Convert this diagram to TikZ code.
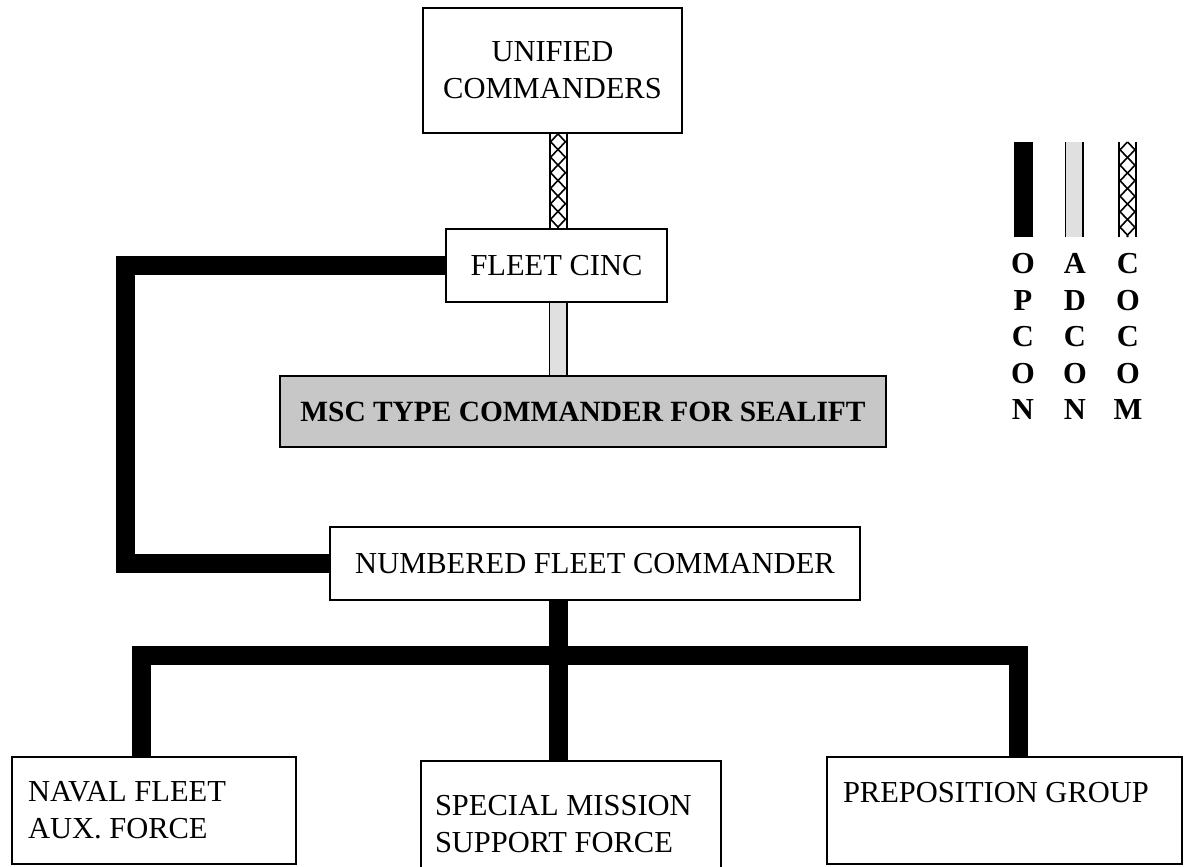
\documentclass[tikz,border=0pt]{standalone}
\usepackage{fontspec}
\setmainfont{Liberation Serif}
\usetikzlibrary{decorations.pathmorphing}
\pgfdeclarelayer{back}
\pgfsetlayers{back,main}
\newcommand{\orgfont}{\fontsize{15.25}{18.5}\selectfont}
\tikzset{
  orgbox/.style={draw, line width=1pt, fill=white, inner sep=0pt, align=center, font=\orgfont},
  unitbox/.style={draw, line width=1pt, fill=white, inner xsep=8pt, inner ysep=0pt, align=flush left, font=\orgfont},
  keytext/.style={inner sep=0pt, anchor=north, align=center, font=\fontsize{15.25}{18.25}\selectfont\bfseries},
  opcon/.style={line width=9.5pt},
  adcon/.style={line width=9.5pt, postaction={draw=black!12, line width=8pt}},
  cocom/.style={line width=9.5pt, postaction={draw=white, line width=7.5pt},
    postaction={draw=black, line width=0.8pt, decorate, decoration={zigzag, amplitude=3.75pt, segment length=15.5pt}},
    postaction={draw=black, line width=0.8pt, decorate, decoration={zigzag, mirror, amplitude=3.75pt, segment length=15.5pt}}}
}
\begin{document}
\begin{tikzpicture}[x=0.5pt, y=-0.5pt]
  \useasboundingbox (0,0) rectangle (1185,867);
  % chain of command
  \node[orgbox, minimum width=129.5pt, minimum height=62.5pt] (uc) at (552.5,70.5) {UNIFIED\\COMMANDERS};
  \node[orgbox, minimum width=110.5pt, minimum height=36.5pt] (fc) at (556.5,265.5) {FLEET CINC};
  \node[orgbox, fill=black!22, minimum width=303pt, minimum height=35.5pt, font=\fontsize{14.7}{18}\selectfont\bfseries] (msc) at (583,411.5) {MSC TYPE COMMANDER FOR SEALIFT};
  \node[orgbox, minimum width=265pt, minimum height=36.5pt] (nfc) at (595,563.5) {NUMBERED FLEET COMMANDER};
  \node[unitbox, text width=126pt, minimum height=53.5pt] (nfaf) at (154,810.5) {NAVAL FLEET\\AUX. FORCE};
  \node[unitbox, text width=136pt, inner xsep=7pt, minimum height=63.5pt] (smsf) at (571,824.5) {SPECIAL MISSION\\SUPPORT FORCE};
  \node[unitbox, text width=161.5pt, minimum height=53.5pt] (pg) at (1004.5,810.5) {PREPOSITION GROUP\\\mbox{}};
  \coordinate (spine) at (558,0);
  \coordinate (opleft) at (125,0);
  \coordinate (busL) at (141,655.5);
  \coordinate (busR) at (1018,655.5);
  \begin{pgfonlayer}{back}
    \draw[cocom] (uc.south -| spine) -- (fc.north -| spine);
    \draw[adcon] (fc.south -| spine) -- (msc.north -| spine);
    \draw[opcon] (fc.west) -- (fc.west -| opleft) |- (nfc.west);
    \draw[opcon] (nfc.south -| spine) -- (smsf.north -| spine);
    \draw[opcon] (nfaf.north -| busL) -- (busL) -- (busR) -- (pg.north -| busR);
  \end{pgfonlayer}
  % key
  \draw[opcon] (1023,142) -- (1023,237);
  \draw[adcon] (1074,142) -- (1074,237);
  \draw[cocom] (1127.5,142) -- (1127.5,237);
  \node[keytext] (kop) at (1023,253) {O\\P\\C\\O\\N};
  \node[keytext] (kad) at (1075,253) {A\\D\\C\\O\\N};
  \node[keytext] (kco) at (1128,253) {C\\O\\C\\O\\M};
\end{tikzpicture}
\end{document}
